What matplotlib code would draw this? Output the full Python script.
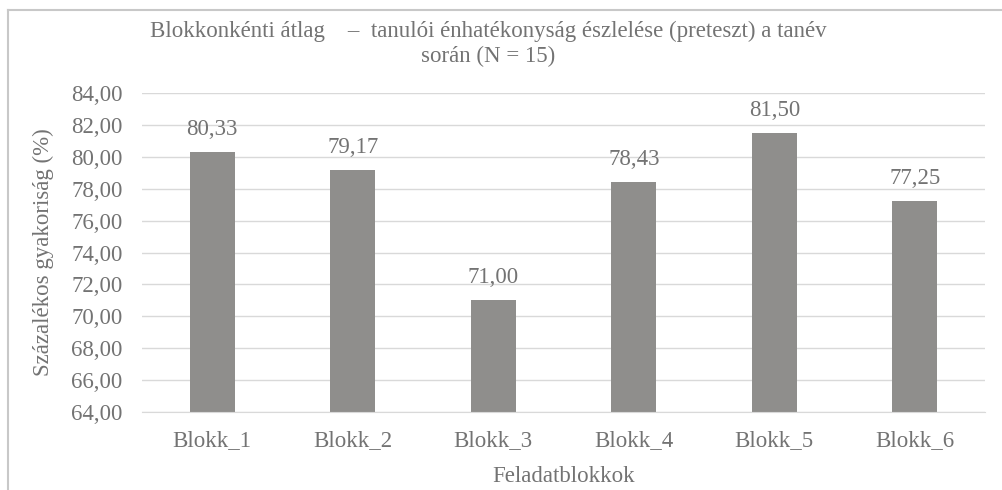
import matplotlib.pyplot as plt
from matplotlib.lines import Line2D
from matplotlib.ticker import FuncFormatter

# data
blocks = ['Blokk_1', 'Blokk_2', 'Blokk_3', 'Blokk_4', 'Blokk_5', 'Blokk_6']
means = [80.33, 79.17, 71.00, 78.43, 81.50, 77.25]
y_ticks = [64, 66, 68, 70, 72, 74, 76, 78, 80, 82, 84]

txt = '#737373'
fs = 16.5
plt.rcParams['font.family'] = ['Liberation Serif', 'DejaVu Serif']

fig = plt.figure(figsize=(10.02, 4.9), dpi=100)
ax = fig.add_axes([142 / 1002, 1 - 412 / 490, (985 - 142) / 1002, (412 - 93) / 490])

x = range(len(blocks))
ax.bar(x, means, width=0.32, color='#8f8e8c', zorder=2)
for xi, v in zip(x, means):
    ax.text(xi, v + 0.75, f'{v:.2f}'.replace('.', ','), ha='center', va='bottom',
            fontsize=fs, color=txt)

ax.set_ylim(64, 84)
ax.set_xlim(-0.5, len(blocks) - 0.5)
ax.set_yticks(y_ticks)
ax.yaxis.set_major_formatter(FuncFormatter(lambda v, p: f'{v:.2f}'.replace('.', ',')))
ax.set_xticks(list(x))
ax.set_xticklabels(blocks)
ax.tick_params(length=0, labelsize=fs, labelcolor=txt)
ax.tick_params(axis='x', pad=13)
ax.tick_params(axis='y', pad=14)
ax.grid(axis='y', color='#d9d9d9', linewidth=1, zorder=0)
for s in ['top', 'right', 'left']:
    ax.spines[s].set_visible(False)
ax.spines['bottom'].set_color('#d9d9d9')

ax.set_xlabel('Feladatblokkok', fontsize=fs, color=txt, labelpad=11)
ax.set_ylabel('Százalékos gyakoriság (%)', fontsize=fs, color=txt, labelpad=12)

fig.text(488 / 1002, 1 - 44 / 490,
         'Blokkonkénti átlag    –  tanulói énhatékonyság észlelése (preteszt) a tanév\nsorán (N = 15)',
         ha='center', va='center', fontsize=fs, color=txt, linespacing=1.25)

# chart frame (cropped at right and bottom)
fig.add_artist(Line2D([8 / 1002, 1], [1 - 10 / 490] * 2, color='#c8c8c8', linewidth=1.5))
fig.add_artist(Line2D([8 / 1002] * 2, [0, 1 - 10 / 490], color='#c8c8c8', linewidth=1.5))

fig.savefig('out.png', dpi=100)
